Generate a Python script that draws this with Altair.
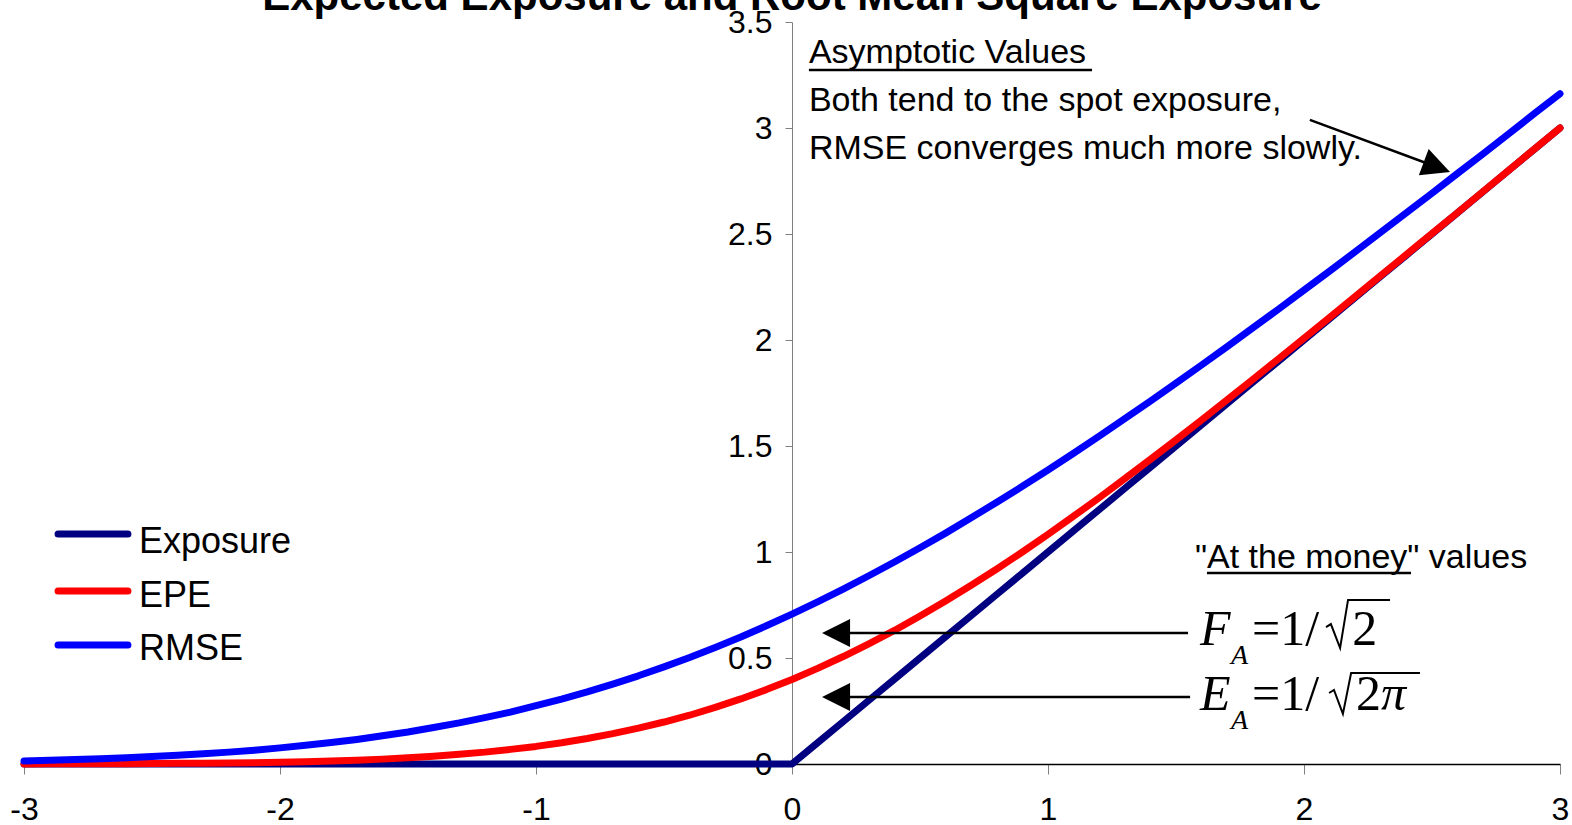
import altair as alt
import pandas as pd

# Spot (moneyness) values on the horizontal axis
x_vals = [-3.0, -2.9, -2.8, -2.7, -2.6, -2.5, -2.4, -2.3, -2.2, -2.1,
          -2.0, -1.9, -1.8, -1.7, -1.6, -1.5, -1.4, -1.3, -1.2, -1.1,
          -1.0, -0.9, -0.8, -0.7, -0.6, -0.5, -0.4, -0.3, -0.2, -0.1,
          0.0, 0.1, 0.2, 0.3, 0.4, 0.5, 0.6, 0.7, 0.8, 0.9,
          1.0, 1.1, 1.2, 1.3, 1.4, 1.5, 1.6, 1.7, 1.8, 1.9,
          2.0, 2.1, 2.2, 2.3, 2.4, 2.5, 2.6, 2.7, 2.8, 2.9, 3.0]

exposure = [0.0, 0.0, 0.0, 0.0, 0.0, 0.0, 0.0, 0.0, 0.0, 0.0,
            0.0, 0.0, 0.0, 0.0, 0.0, 0.0, 0.0, 0.0, 0.0, 0.0,
            0.0, 0.0, 0.0, 0.0, 0.0, 0.0, 0.0, 0.0, 0.0, 0.0,
            0.0, 0.1, 0.2, 0.3, 0.4, 0.5, 0.6, 0.7, 0.8, 0.9,
            1.0, 1.1, 1.2, 1.3, 1.4, 1.5, 1.6, 1.7, 1.8, 1.9,
            2.0, 2.1, 2.2, 2.3, 2.4, 2.5, 2.6, 2.7, 2.8, 2.9, 3.0]

epe = [0.000, 0.001, 0.001, 0.001, 0.001, 0.002, 0.003, 0.004, 0.005, 0.006,
       0.008, 0.011, 0.014, 0.018, 0.023, 0.029, 0.037, 0.046, 0.056, 0.069,
       0.083, 0.100, 0.120, 0.143, 0.169, 0.198, 0.230, 0.267, 0.307, 0.351,
       0.399, 0.451, 0.507, 0.567, 0.630, 0.698, 0.769, 0.843, 0.920, 1.000,
       1.083, 1.169, 1.256, 1.346, 1.437, 1.529, 1.623, 1.718, 1.814, 1.911,
       2.008, 2.106, 2.205, 2.304, 2.403, 2.502, 2.601, 2.701, 2.801, 2.901, 3.000]

rmse = [0.014, 0.018, 0.021, 0.025, 0.029, 0.035, 0.041, 0.048, 0.056, 0.065,
        0.076, 0.088, 0.101, 0.116, 0.133, 0.151, 0.172, 0.194, 0.219, 0.245,
        0.275, 0.306, 0.340, 0.377, 0.416, 0.458, 0.502, 0.550, 0.599, 0.652,
        0.707, 0.765, 0.825, 0.888, 0.953, 1.020, 1.089, 1.161, 1.235, 1.310,
        1.387, 1.466, 1.547, 1.629, 1.712, 1.796, 1.882, 1.969, 2.057, 2.145,
        2.235, 2.325, 2.416, 2.508, 2.600, 2.692, 2.786, 2.879, 2.973, 3.068, 3.162]

series_names = ["Exposure", "EPE", "RMSE"]
series_colors = ["#000080", "#FF0000", "#0000FF"]
series_values = [exposure, epe, rmse]

x_ticks = [-3, -2, -1, 0, 1, 2, 3]
y_ticks = [0, 0.5, 1, 1.5, 2, 2.5, 3, 3.5]

chart_title = "Expected Exposure and Root Mean Square Exposure"

SANS = "Liberation Sans"
SERIF = "Liberation Serif"

x_scale = alt.Scale(domain=[-3, 3], nice=False, zero=False)
y_scale = alt.Scale(domain=[0, 3.5], nice=False)
color_scale = alt.Scale(domain=series_names, range=series_colors)

# Plain number labels with an ASCII hyphen for negatives
plain_label = "datum.value + ''"

x_axis = alt.Axis(values=x_ticks, title=None, grid=False, domainColor="#000000",
                  domainWidth=1.5, tickColor="#808080", tickSize=10, tickWidth=1,
                  labelFont=SANS, labelFontSize=32, labelColor="#000000",
                  labelPadding=20, labelFlush=False, labelOverlap=False,
                  labelExpr=plain_label)
# The vertical axis crosses the horizontal one at x = 0 (middle of the plot)
y_axis = alt.Axis(values=y_ticks, title=None, grid=False, offset=-768,
                  domainColor="#808080", domainWidth=1, tickColor="#808080",
                  tickSize=7, tickWidth=1, labelFont=SANS, labelFontSize=32,
                  labelColor="#000000", labelPadding=13, labelExpr=plain_label,
                  labelFlush=False, labelOverlap=False)


def X(field):
    return alt.X(field, type="quantitative", scale=x_scale, axis=x_axis)


def Y(field):
    return alt.Y(field, type="quantitative", scale=y_scale, axis=y_axis)


rows = []
for name, vals in zip(series_names, series_values):
    for xv, yv in zip(x_vals, vals):
        rows.append({"x": xv, "y": yv, "series": name})
curves = pd.DataFrame(rows)

# One layer per series so later series are painted on top
line_layers = []
for name in series_names:
    layer = alt.Chart(curves).transform_filter(
        alt.datum.series == name
    ).mark_line(strokeWidth=7, strokeCap="round", strokeJoin="round", clip=False).encode(
        x=X("x"), y=Y("y"),
        color=alt.Color("series:N", scale=color_scale, legend=None),
    )
    line_layers.append(layer)

# Title drawn as text just above the top of the value range
title_df = pd.DataFrame({"x": [0.0], "y": [3.557], "text": [chart_title]})
title = alt.Chart(title_df).mark_text(
    align="center", baseline="alphabetic", font=SANS, fontSize=42,
    fontWeight="bold", color="#000000"
).encode(x=X("x"), y=Y("y"), text="text:N")

# Legend, placed inside the plot in data units
legend_df = pd.DataFrame({
    "series": series_names,
    "ly": [1.085, 0.816, 0.561],
    "ty": [0.995, 0.741, 0.491],
    "lx1": [-2.867] * 3,
    "lx2": [-2.594] * 3,
    "tx": [-2.551] * 3,
})
legend_lines = alt.Chart(legend_df).mark_rule(strokeWidth=7, strokeCap="round").encode(
    x=X("lx1"), x2="lx2:Q", y=Y("ly"),
    color=alt.Color("series:N", scale=color_scale, legend=None),
)
legend_text = alt.Chart(legend_df).mark_text(
    align="left", baseline="alphabetic", font=SANS, fontSize=36, color="#000000"
).encode(x=X("tx"), y=Y("ty"), text="series:N")

# Annotation text blocks
notes_df = pd.DataFrame({
    "x": [0.066, 0.066, 0.066, 1.574],
    "y": [3.307, 3.080, 2.854, 0.925],
    "text": ["Asymptotic Values",
             "Both tend to the spot exposure,",
             "RMSE converges much more slowly.",
             "\"At the money\" values"],
})
notes = alt.Chart(notes_df).mark_text(
    align="left", baseline="alphabetic", font=SANS, fontSize=34, color="#000000"
).encode(x=X("x"), y=Y("y"), text="text:N")

underline_df = pd.DataFrame({
    "x1": [0.066, 1.621], "x2": [1.172, 2.418], "y": [3.274, 0.901],
})
underlines = alt.Chart(underline_df).mark_rule(strokeWidth=2.5, color="#000000").encode(
    x=X("x1"), x2="x2:Q", y=Y("y")
)

# Arrow shafts and heads
shaft_df = pd.DataFrame({
    "x1": [2.023, 1.547, 1.555],
    "y1": [3.038, 0.618, 0.316],
    "x2": [2.519, 0.172, 0.172],
    "y2": [2.816, 0.618, 0.316],
})
shafts = alt.Chart(shaft_df).mark_rule(strokeWidth=2.5, color="#000000").encode(
    x=X("x1"), y=Y("y1"), x2="x2:Q", y2="y2:Q",
)
head_df = pd.DataFrame({
    "x": [2.519, 0.172, 0.172],
    "y": [2.816, 0.618, 0.316],
    "angle": [200.4, 0.0, 0.0],
})
heads = alt.Chart(head_df).mark_point(
    shape="M-1,0L1,-1L1,1Z", filled=True, color="#000000", opacity=1, size=784
).encode(
    x=X("x"), y=Y("y"),
    angle=alt.Angle("angle:Q", scale=None),
)

# Formulas: F_A = 1/sqrt(2), E_A = 1/sqrt(2 pi)
italic_df = pd.DataFrame({
    "x": [1.594, 1.715, 1.594, 1.715, 2.301],
    "y": [0.561, 0.472, 0.255, 0.165, 0.255],
    "text": ["F", "A", "E", "A", "π"],
    "size": [50, 28, 50, 28, 50],
})
italic = alt.Chart(italic_df).mark_text(
    align="left", baseline="alphabetic", font=SERIF, fontStyle="italic", color="#000000"
).encode(
    x=X("x"), y=Y("y"), text="text:N",
    size=alt.Size("size:Q", scale=None),
)
upright_df = pd.DataFrame({
    "x": [1.797, 2.188, 1.797, 2.203],
    "y": [0.561, 0.561, 0.255, 0.255],
    "text": ["=1/", "2", "=1/", "2"],
})
upright = alt.Chart(upright_df).mark_text(
    align="left", baseline="alphabetic", font=SERIF, fontSize=50, color="#000000"
).encode(x=X("x"), y=Y("y"), text="text:N")

radical_df = pd.DataFrame({
    "g": ["r1"] * 5 + ["r2"] * 5,
    "k": [0, 1, 2, 3, 4] * 2,
    "x": [2.086, 2.105, 2.141, 2.172, 2.336, 2.098, 2.117, 2.152, 2.184, 2.453],
    "y": [0.646, 0.660, 0.547, 0.774, 0.774, 0.335, 0.349, 0.236, 0.429, 0.429],
})
radicals = alt.Chart(radical_df).mark_line(strokeWidth=2, color="#000000", strokeJoin="miter").encode(
    x=X("x"), y=Y("y"), detail="g:N", order="k:Q",
)

chart = alt.layer(
    *line_layers, legend_lines, legend_text, notes, underlines, shafts, heads,
    italic, upright, radicals, title
).properties(
    width=1536, height=742,
    padding={"left": 24, "top": 22, "right": 12, "bottom": 61},
    autosize=alt.AutoSizeParams(type="none"),
).configure(background="#FFFFFF").configure_view(stroke=None)

chart.save("out.html", embed_options={"renderer": "svg", "actions": False})
